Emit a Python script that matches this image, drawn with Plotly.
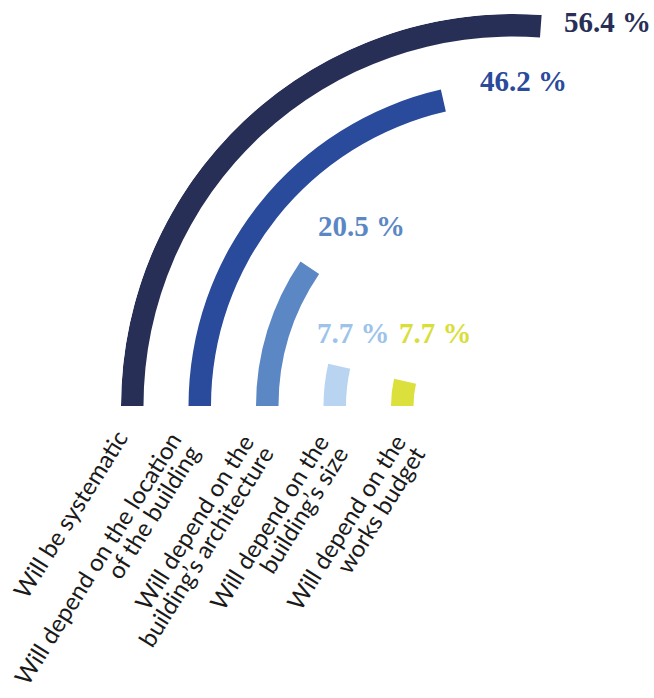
import math
import plotly.graph_objects as go

# Survey answers, outermost ring first
categories = [
    "Will be systematic",
    "Will depend on the location<br>of the building",
    "Will depend on the<br>building’s architecture",
    "Will depend on the<br>building’s size",
    "Will depend on the<br>works budget",
]
values = [56.4, 46.2, 20.5, 7.7, 7.7]
value_labels = ["56.4 %", "46.2 %", "20.5 %", "7.7 %", "7.7 %"]
colors = ["#282F56", "#2A4A9B", "#5B87C4", "#B8D4F1", "#DBE03D"]
label_colors = ["#282F56", "#2A4A9B", "#5B87C4", "#9DC3EB", "#D9DE3A"]

W, H = 654, 698
DEG_PER_PCT = 1.67          # angular sweep per percentage point
R_OUT = 392                 # outer radius of the first ring (radial units = px)
RING_STEP = 67.5
RING_W = 22.5
CX, CY = 513, 406           # pixel position of the polar centre
SECTOR = [80, 180]


def px(x, y):
    return x / W, 1 - y / H


fig = go.Figure()
for i, (cat, v, c) in enumerate(zip(categories, values, colors)):
    span = v * DEG_PER_PCT
    fig.add_trace(go.Barpolar(
        theta=[span / 2], width=[span],
        r=[RING_W], base=[R_OUT - i * RING_STEP - RING_W],
        marker=dict(color=c, line=dict(width=0)),
        name=cat.replace("<br>", " "), hoverinfo="skip",
    ))

# polar domain sized so that one radial unit equals one pixel
x0 = CX - R_OUT
x1 = CX + R_OUT * math.cos(math.radians(SECTOR[0]))
y_top = CY - R_OUT
dom_x = [x0 / W, x1 / W]
dom_y = [1 - CY / H, 1 - y_top / H]

annotations = []
value_pos = [(607, 22), (523, 81), (361, 226), (353, 333), (435, 333)]
for lab, c, (x, y) in zip(value_labels, label_colors, value_pos):
    ax, ay = px(x, y)
    annotations.append(dict(
        x=ax, y=ay, xref="paper", yref="paper", text=lab, showarrow=False,
        xanchor="center", yanchor="middle",
        font=dict(family="Liberation Serif", size=29, color=c, weight="bold"),
    ))

# rotated category labels, one annotation per line so the leading stays tight
ANG = 58
FS = 24
LINE_GAP = 22.5
n0, n1 = math.sin(math.radians(ANG)), math.cos(math.radians(ANG))
box_h = 1.2 * FS + 2
base_off = 1 + 0.987 * FS
label_ends = [(131, 435), (184, 438), (257, 439), (332, 439), (409, 439)]
for cat, (ex, ey) in zip(categories, label_ends):
    for j, line in enumerate(cat.split("<br>")):
        Ex = ex + j * LINE_GAP * n0
        Ey = ey + j * LINE_GAP * n1
        X = Ex - n0 * base_off + n0 * box_h
        Y = Ey - n1 * base_off
        ax, ay = px(X, Y)
        annotations.append(dict(
            x=ax, y=ay, xref="paper", yref="paper", text=line, showarrow=False,
            xanchor="right", yanchor="top", textangle=-ANG,
            font=dict(family="Lato", size=FS, color="#1a1a1a"),
        ))

fig.update_layout(
    width=W, height=H,
    margin=dict(l=0, r=0, t=0, b=0),
    paper_bgcolor="white",
    showlegend=False,
    polar=dict(
        domain=dict(x=dom_x, y=dom_y),
        sector=SECTOR,
        bgcolor="white",
        barmode="overlay",
        radialaxis=dict(visible=False, range=[0, R_OUT]),
        angularaxis=dict(visible=False, direction="clockwise", rotation=180),
    ),
    annotations=annotations,
)

fig.write_html("out.html")
